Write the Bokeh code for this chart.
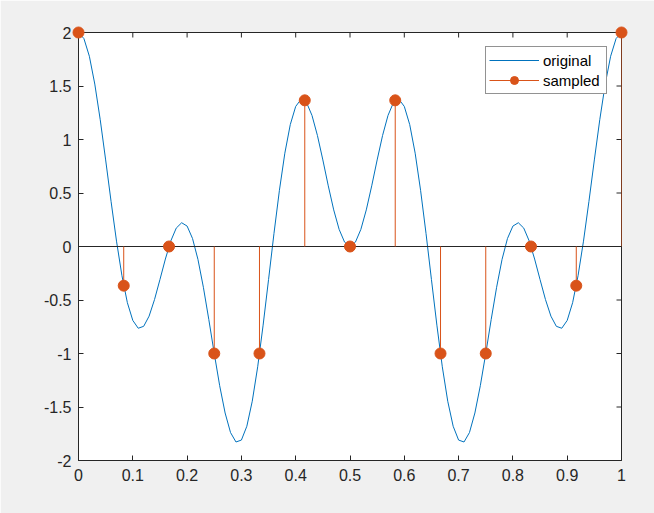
import math
from bokeh.plotting import figure
from bokeh.models import Range1d, FixedTicker, Legend, LegendItem
from bokeh.embed import file_html
from bokeh.resources import INLINE

# continuous "original" signal, read at t = 0, 0.01, ..., 1
t_orig = [0.00, 0.01, 0.02, 0.03, 0.04, 0.05, 0.06, 0.07, 0.08, 0.09,
          0.10, 0.11, 0.12, 0.13, 0.14, 0.15, 0.16, 0.17, 0.18, 0.19,
          0.20, 0.21, 0.22, 0.23, 0.24, 0.25, 0.26, 0.27, 0.28, 0.29,
          0.30, 0.31, 0.32, 0.33, 0.34, 0.35, 0.36, 0.37, 0.38, 0.39,
          0.40, 0.41, 0.42, 0.43, 0.44, 0.45, 0.46, 0.47, 0.48, 0.49,
          0.50, 0.51, 0.52, 0.53, 0.54, 0.55, 0.56, 0.57, 0.58, 0.59,
          0.60, 0.61, 0.62, 0.63, 0.64, 0.65, 0.66, 0.67, 0.68, 0.69,
          0.70, 0.71, 0.72, 0.73, 0.74, 0.75, 0.76, 0.77, 0.78, 0.79,
          0.80, 0.81, 0.82, 0.83, 0.84, 0.85, 0.86, 0.87, 0.88, 0.89,
          0.90, 0.91, 0.92, 0.93, 0.94, 0.95, 0.96, 0.97, 0.98, 0.99, 1.00]
y_orig = [2.0, 1.943, 1.778, 1.518, 1.185, 0.809, 0.420, 0.050, -0.273, -0.525,
          -0.691, -0.764, -0.746, -0.651, -0.496, -0.309, -0.117, 0.052, 0.172, 0.222,
          0.191, 0.075, -0.121, -0.381, -0.683, -1.0, -1.301, -1.556, -1.739, -1.827,
          -1.809, -1.680, -1.446, -1.124, -0.735, -0.309, 0.122, 0.525, 0.872, 1.139,
          1.309, 1.377, 1.345, 1.225, 1.038, 0.809, 0.567, 0.342, 0.160, 0.041,
          0.0, 0.041, 0.160, 0.342, 0.567, 0.809, 1.038, 1.225, 1.345, 1.377,
          1.309, 1.139, 0.872, 0.525, 0.122, -0.309, -0.735, -1.124, -1.446, -1.680,
          -1.809, -1.827, -1.739, -1.556, -1.301, -1.0, -0.683, -0.381, -0.121, 0.075,
          0.191, 0.222, 0.172, 0.052, -0.117, -0.309, -0.496, -0.651, -0.746, -0.764,
          -0.691, -0.525, -0.273, 0.050, 0.420, 0.809, 1.185, 1.518, 1.778, 1.943, 2.0]

# sampled points
t_samp = [0.0, 0.0833, 0.1667, 0.25, 0.3333, 0.4167, 0.5,
          0.5833, 0.6667, 0.75, 0.8333, 0.9167, 1.0]
y_samp = [2.0, -0.366, 0.0, -1.0, -1.0, 1.366, 0.0,
          1.366, -1.0, -1.0, 0.0, -0.366, 2.0]
zeros_samp = [0.0] * len(t_samp)

x_ticks = [0, 0.1, 0.2, 0.3, 0.4, 0.5, 0.6, 0.7, 0.8, 0.9, 1]
x_labels = ["0", "0.1", "0.2", "0.3", "0.4", "0.5", "0.6", "0.7", "0.8", "0.9", "1"]
y_ticks = [-2, -1.5, -1, -0.5, 0, 0.5, 1, 1.5, 2]
y_labels = ["-2", "-1.5", "-1", "-0.5", "0", "0.5", "1", "1.5", "2"]

BLUE = "#0072BD"
ORANGE = "#D95319"
AX = "#262626"
FONT = "Liberation Sans"
X0, X1, Y0, Y1 = 0, 1, -2, 2

p = figure(width=654, height=513, output_backend="svg", toolbar_location=None,
           x_range=Range1d(X0, X1), y_range=Range1d(Y0, Y1),
           min_border_left=78, min_border_right=33, min_border_top=32, min_border_bottom=53)
p.border_fill_color = "#F0F0F0"
p.background_fill_color = "white"
p.outline_line_color = AX
p.outline_line_width = 1
p.grid.visible = False

line_r = p.line(t_orig, y_orig, line_color=BLUE, line_width=1)
p.line([X0, X1], [0, 0], line_color=AX, line_width=1)
stem_r = p.segment(x0=t_samp, y0=zeros_samp, x1=t_samp, y1=y_samp, line_color=ORANGE, line_width=1)
dot_r = p.scatter(t_samp, y_samp, size=11, fill_color=ORANGE, line_color=ORANGE, level="overlay")

# inward ticks on top and right edges (box on)
p.ray(x=x_ticks, y=[Y1] * len(x_ticks), length=5, length_units="screen",
      angle=-math.pi / 2, line_color=AX, line_width=1)
p.ray(x=[X1] * len(y_ticks), y=y_ticks, length=5, length_units="screen",
      angle=math.pi, line_color=AX, line_width=1)

def style_axis(ax, ticks, labels):
    ax.ticker = FixedTicker(ticks=ticks)
    ax.major_label_overrides = {float(k): v for k, v in zip(ticks, labels)}
    ax.major_tick_in = 5
    ax.major_tick_out = 0
    ax.minor_tick_in = 0
    ax.minor_tick_out = 0
    ax.axis_line_color = AX
    ax.major_tick_line_color = AX
    ax.major_label_text_font = FONT
    ax.major_label_text_font_size = "16px"
    ax.major_label_text_color = AX

style_axis(p.xaxis[0], x_ticks, x_labels)
p.xaxis[0].major_label_standoff = 8
style_axis(p.yaxis[0], y_ticks, y_labels)
p.yaxis[0].major_label_standoff = 7

legend = Legend(items=[LegendItem(label="original", renderers=[line_r]),
                       LegendItem(label="sampled", renderers=[stem_r, dot_r])],
                location="top_right")
legend.margin = 14
legend.padding = 3
legend.spacing = 0
legend.glyph_width = 50
legend.glyph_height = 20
legend.label_height = 20
legend.label_width = 60
legend.label_standoff = 4
legend.label_text_font = FONT
legend.label_text_font_size = "15px"
legend.label_text_color = "black"
legend.border_line_color = AX
legend.border_line_width = 1
legend.background_fill_color = "white"
legend.background_fill_alpha = 1
p.add_layout(legend, "center")

open("out.html", "w").write(file_html(p, INLINE))
